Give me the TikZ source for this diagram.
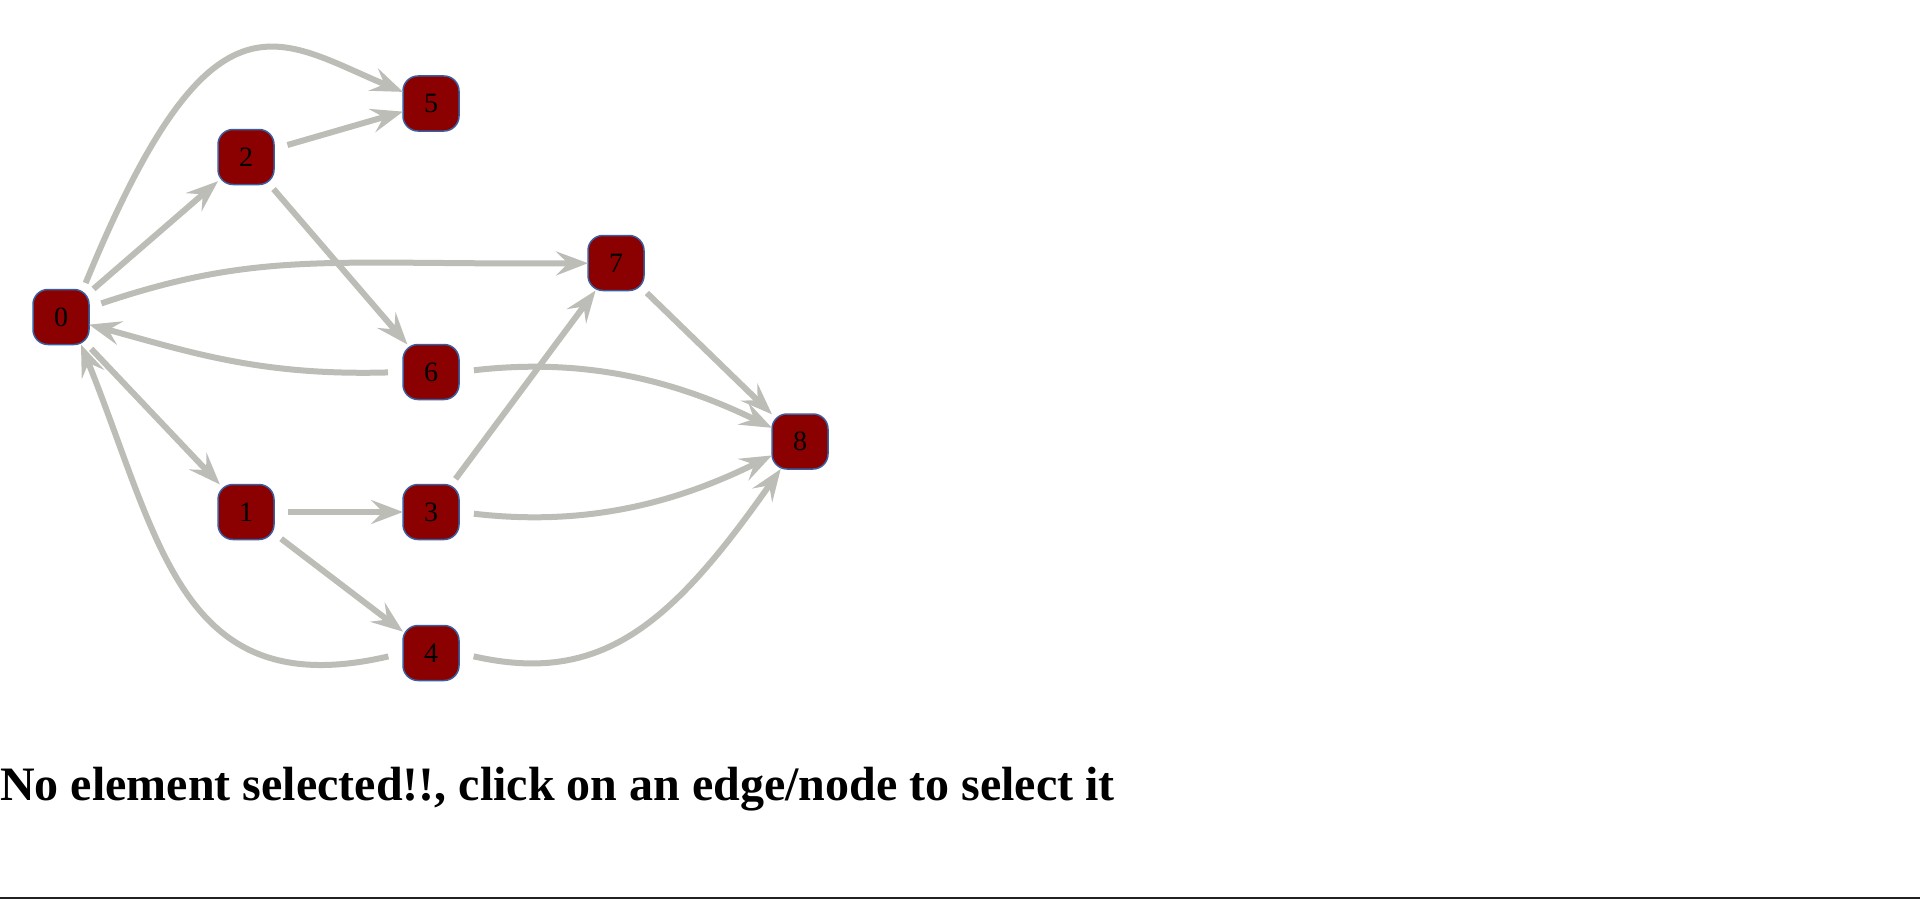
\documentclass[tikz,border=0pt]{standalone}
\usepackage{fontspec}
\setmainfont{Liberation Serif}
\usepackage{tikz}
\usetikzlibrary{arrows.meta}

\definecolor{edgegray}{RGB}{187,189,182}
\definecolor{nodered}{RGB}{139,0,0}
\definecolor{nodeblue}{RGB}{58,95,160}

\begin{document}
\begin{tikzpicture}[x=1pt,y=-1pt,
  vertex/.style={draw=nodeblue,line width=1.5pt,fill=nodered,rounded corners=15pt,
    minimum width=56pt,minimum height=55pt,inner sep=0pt,outer sep=0pt,
    font=\fontsize{28}{30}\selectfont},
  conn/.style={draw=edgegray,line width=6pt,shorten <=#1,
    -{Stealth[length=32pt,width=24pt,inset=12pt]}},
  conn/.default=6pt]
 \useasboundingbox (0,0) rectangle (1920,899);
 % the nine vertices
 \node[vertex] (n0) at (61,317) {0};
 \node[vertex] (n1) at (246,512) {1};
 \node[vertex] (n2) at (246,157) {2};
 \node[vertex] (n3) at (431,512) {3};
 \node[vertex] (n4) at (431,653) {4};
 \node[vertex] (n5) at (431,103.5) {5};
 \node[vertex] (n6) at (431,372) {6};
 \node[vertex] (n7) at (616,263) {7};
 \node[vertex] (n8) at (800,441.5) {8};
 % straight edges
 \draw[conn] (n0) -- (n2);
 \draw[conn] (n0) -- (n1);
 \draw[conn=14pt] (n2) -- (n5);
 \draw[conn] (n2) -- (n6);
 \draw[conn=4pt] (n7) -- (n8);
 \draw[conn=14pt] (n1) -- (n3);
 \draw[conn=9pt] (n1) -- (n4);
 \draw[conn=7pt] (n3) -- (n7);
 % curved edges
 \draw[conn=7pt] ([xshift=-6pt]n0.north east) .. controls (212,-25) and (278,40) .. (n5);
 \draw[conn=13pt] (n0) .. controls (260,250) and (330,265) .. (n7);
 \draw[conn=15pt] (n6.west) .. controls (260,376) and (190,352) .. (n0);
 \draw[conn=15pt] (n6.east) .. controls (580,358) and (670,378) .. (n8);
 \draw[conn=15pt] (n3.east) .. controls (580,526) and (670,506) .. (n8);
 \draw[conn=15pt] (n4.east) .. controls (600,685) and (670,627) .. (n8);
 \draw[conn=15pt] (n4.west) .. controls (180,705) and (160,540) .. ([xshift=-8pt]n0.south east);
 % status line
 \node[anchor=base west,inner sep=0pt,font=\bfseries\fontsize{48}{56}\selectfont] (msg)
   at (0,800) {No element selected!!, click on an edge/node to select it};
 \fill[black!87] (0,896.7) rectangle (1920,899);
\end{tikzpicture}
\end{document}
